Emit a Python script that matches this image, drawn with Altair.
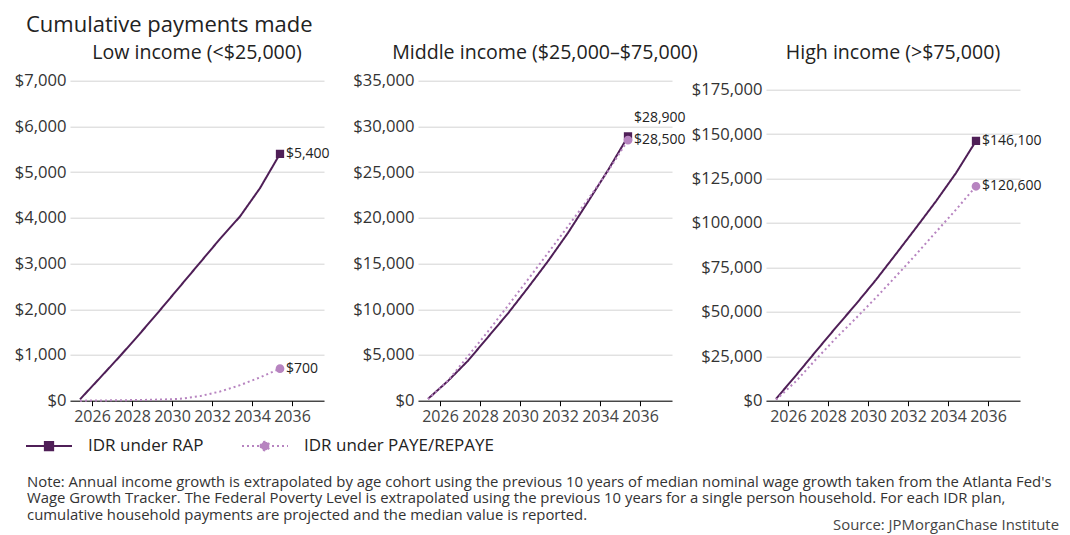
import altair as alt
import pandas as pd

YEARS = [2025.4, 2026.4, 2027.4, 2028.4, 2029.4, 2030.4, 2031.4, 2032.4, 2033.4, 2034.4, 2035.4]
SERIES = ["IDR under RAP", "IDR under PAYE/REPAYE"]
PANEL_TITLES = ["Low income (<$25,000)", "Middle income ($25,000\u2013$75,000)", "High income (>$75,000)"]

LOW_RAP = [30, 500, 975, 1470, 1980, 2500, 3020, 3540, 4030, 4650, 5400]
LOW_PAYE = [0, 5, 10, 15, 25, 40, 100, 200, 340, 510, 700]
MID_RAP = [200, 2160, 4370, 6960, 9550, 12360, 15260, 18360, 21760, 25210, 28900]
MID_PAYE = [150, 2200, 4870, 7580, 10400, 13260, 16160, 19080, 22030, 25100, 28500]
HIGH_RAP = [1000, 14240, 27840, 41240, 54340, 68010, 82540, 97240, 112200, 128070, 146100]
HIGH_PAYE = [500, 10940, 23290, 35200, 46450, 58000, 70000, 82260, 94910, 107490, 120600]

Y_MAX = [7000, 35000, 180000]
Y_TICKS = [list(range(0, 7001, 1000)), list(range(0, 35001, 5000)), list(range(0, 175001, 25000))]
X_TICKS = [2026, 2028, 2030, 2032, 2034, 2036]
X_DOMAIN = [2024.9, 2037.6]

NOTE_LINES = [
    "Note: Annual income growth is extrapolated by age cohort using the previous 10 years of median nominal  wage growth taken from the Atlanta Fed's",
    "Wage Growth Tracker. The Federal Poverty Level is extrapolated using the previous 10 years for a single person household. For each IDR plan,",
    "cumulative household payments are projected and the median value is reported.",
]
SOURCE = "Source: JPMorganChase Institute"
TITLE = "Cumulative payments made"

COLORS = ["#4f1f57", "#b784c0"]
DASHES = [[1, 0], [2, 3]]
SHAPES = [
    "M-1,0H1M-0.18,-0.18H0.18V0.18H-0.18Z",
    "M-1,0H1M-0.19,0A0.19,0.19,0,1,1,0.19,0A0.19,0.19,0,1,1,-0.19,0Z",
]
FONT = "Open Sans"
PW, PH = 254, 320

dummy = pd.DataFrame({"k": [0]})


def panel(i, rap, paye, rap_dy):
    df = pd.DataFrame({
        "year": YEARS + YEARS,
        "value": rap + paye,
        "series": [SERIES[0]] * len(YEARS) + [SERIES[1]] * len(YEARS),
    })
    ends = df.groupby("series", sort=False).tail(1)
    x = alt.X("year:Q", scale=alt.Scale(domain=X_DOMAIN, nice=False, zero=False),
              axis=alt.Axis(values=X_TICKS, format="d", title=None, grid=False,
                            domainColor="#000", tickColor="#000", tickSize=5,
                            labelFontSize=16, labelColor="#444", labelPadding=3,
                            labelFlush=False, labelOverlap=False))
    y = alt.Y("value:Q", scale=alt.Scale(domain=[0, Y_MAX[i]], nice=False),
              axis=alt.Axis(values=Y_TICKS[i], format="$,.0f", title=None, grid=True,
                            gridColor="#d3d3d3", domain=False, ticks=False,
                            labelFontSize=16.6, labelColor="#333", labelPadding=4))
    color = alt.Color("series:N", scale=alt.Scale(domain=SERIES, range=COLORS), title=None)
    dash = alt.StrokeDash("series:N", scale=alt.Scale(domain=SERIES, range=DASHES), title=None)
    shape = alt.Shape("series:N", scale=alt.Scale(domain=SERIES, range=SHAPES), title=None)

    lines = alt.Chart(df).mark_line(strokeWidth=2).encode(x=x, y=y, color=color, strokeDash=dash)
    pts = alt.Chart(ends).mark_point(filled=True, opacity=1, size=2116).encode(
        x=x, y=y, color=color, shape=shape)
    lab_rap = alt.Chart(ends[ends["series"] == SERIES[0]]).mark_text(
        align="left", baseline="middle", dx=6, dy=rap_dy, fontSize=14, color="#222").encode(
        x=x, y=y, text=alt.Text("value:Q", format="$,.0f"))
    lab_paye = alt.Chart(ends[ends["series"] == SERIES[1]]).mark_text(
        align="left", baseline="middle", dx=6, dy=0, fontSize=14, color="#222").encode(
        x=x, y=y, text=alt.Text("value:Q", format="$,.0f"))
    ptitle = alt.Chart(dummy).mark_text(
        align="center", baseline="alphabetic", fontSize=19.6, color="#222").encode(
        x=alt.value(PW / 2), y=alt.value(-21.7), text=alt.value(PANEL_TITLES[i]))
    layers = [lines, pts, lab_rap, lab_paye, ptitle]
    if i == 0:
        layers.append(alt.Chart(dummy).mark_text(
            align="left", baseline="alphabetic", fontSize=22, color="#222").encode(
            x=alt.value(-44), y=alt.value(-49.1), text=alt.value(TITLE)))
        layers.append(alt.Chart(dummy).mark_text(
            align="left", baseline="alphabetic", fontSize=14.9, lineHeight=16.7,
            color="#333").encode(
            x=alt.value(-43), y=alt.value(406), text=alt.value(NOTE_LINES)))
        layers.append(alt.Chart(dummy).mark_text(
            align="right", baseline="alphabetic", fontSize=14.9, color="#444").encode(
            x=alt.value(989), y=alt.value(449.3), text=alt.value(SOURCE)))
    return alt.layer(*layers).properties(width=PW, height=PH)


chart = alt.hconcat(
    panel(0, LOW_RAP, LOW_PAYE, 0),
    panel(1, MID_RAP, MID_PAYE, -18),
    panel(2, HIGH_RAP, HIGH_PAYE, 0),
    spacing=94, bounds="flush",
).properties(
    autosize=alt.AutoSizeParams(type="none"),
    padding={"left": 62, "top": 72.7, "right": 990, "bottom": 454},
).configure(font=FONT).configure_view(strokeWidth=0).configure_legend(
    orient="none", legendX=-45, legendY=341, direction="horizontal", columns=2,
    symbolSize=2116, symbolStrokeWidth=2, labelFontSize=17, labelColor="#222",
    labelOffset=15, columnPadding=34, labelLimit=400,
)

chart.save("out.html", embed_options={"renderer": "svg", "actions": False})
